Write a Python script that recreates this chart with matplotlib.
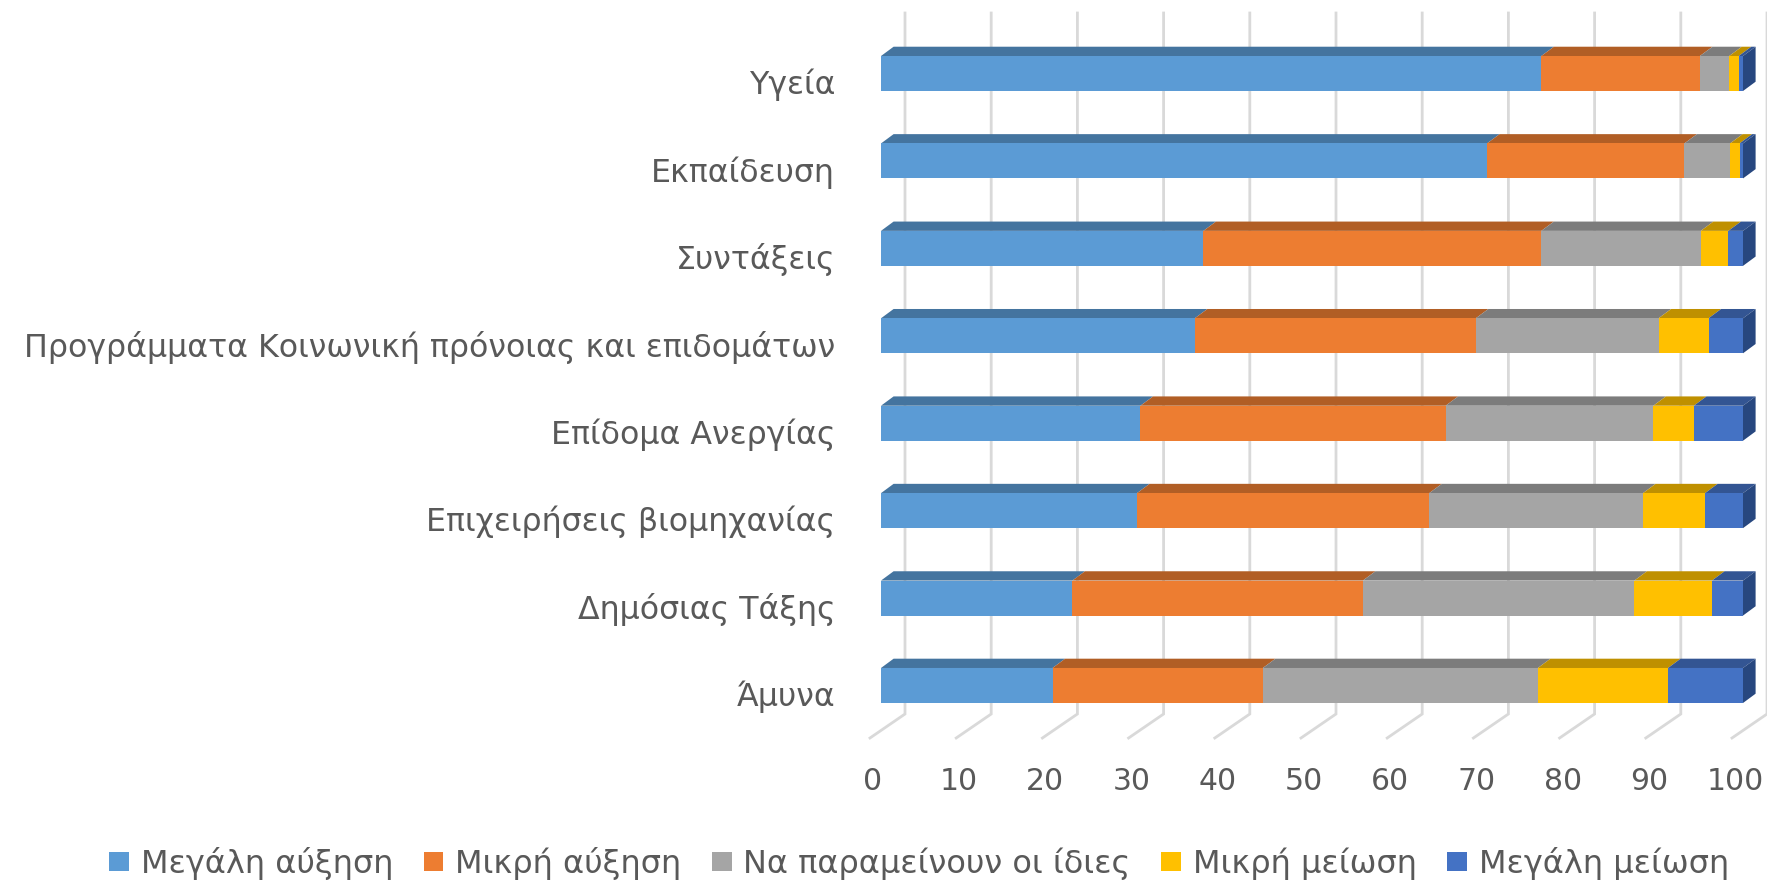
import numpy as np
import matplotlib
matplotlib.use("Agg")
import matplotlib.pyplot as plt
from matplotlib.transforms import Affine2D

plt.rcParams['font.family'] = ['DejaVu Sans']

categories = ["Άμυνα", "Δημόσιας Τάξης", "Επιχειρήσεις βιομηχανίας", "Επίδομα Ανεργίας",
              "Προγράμματα Κοινωνική πρόνοιας και επιδομάτων", "Συντάξεις", "Εκπαίδευση", "Υγεία"]
series_names = ["Μεγάλη αύξηση", "Μικρή αύξηση", "Να παραμείνουν οι ίδιες", "Μικρή μείωση", "Μεγάλη μείωση"]

big_up = [19.9, 22.2, 29.7, 30.1, 36.4, 37.4, 70.3, 76.6]
small_up = [24.4, 33.7, 33.9, 35.4, 32.6, 39.2, 22.9, 18.4]
same = [31.9, 31.5, 24.8, 24.1, 21.2, 18.5, 5.3, 3.4]
small_down = [15.1, 9.0, 7.2, 4.7, 5.8, 3.2, 1.1, 1.1]
big_down = [8.7, 3.6, 4.4, 5.7, 4.0, 1.7, 0.4, 0.5]
values = [big_up, small_up, same, small_down, big_down]

xticks = list(range(0, 101, 10))
colors = ["#5B9BD5", "#ED7D31", "#A5A5A5", "#FFC000", "#4472C4"]
top_colors = ["#44749F", "#B15E25", "#7C7C7C", "#BF9000", "#335593"]
side_color = "#27477F"

W, H = 1767, 881
fig = plt.figure(figsize=(W/100, H/100), dpi=100)
# axes box in pixels: x 0-100 is the front of the bars
left, right, top, bottom = 881, 1743, 29.8, 729.2
ax = fig.add_axes([left/W, 1-bottom/H, (right-left)/W, (bottom-top)/H])
ax.set_xlim(0, 100)
ax.set_ylim(-0.5, 7.5)

px_x = (right-left)/100
px_y = (bottom-top)/8
depth_x = 12.6/px_x
depth_y = 9.3/px_y
bar_h = 35/px_y
back_x = 24/px_x
front_x = -11/px_x
floor_back = -0.5 + (bottom-714)/px_y
floor_front = -0.5 + (bottom-738)/px_y
wall_top = -0.5 + (bottom-13)/px_y

# walls
for v in xticks:
    ax.plot([v+back_x, v+back_x, v+front_x], [wall_top, floor_back, floor_front],
            color="#D9D9D9", lw=2, clip_on=False, zorder=1, solid_joinstyle="miter")

ypos = np.arange(len(categories))
starts = np.zeros(len(categories))
handles = []
for j, vals in enumerate(values):
    vals = np.array(vals)
    b = ax.barh(ypos, vals, left=starts, height=bar_h, color=colors[j], zorder=4, label=series_names[j])
    handles.append(b)
    for i in range(len(ypos)):
        x0 = starts[i]
        x1 = x0+vals[i]
        y1 = ypos[i]+bar_h/2
        ax.fill([x0, x1, x1+depth_x, x0+depth_x], [y1, y1, y1+depth_y, y1+depth_y],
                color=top_colors[j], lw=0, clip_on=False, zorder=3)
        if j == len(values)-1:
            y0 = ypos[i]-bar_h/2
            ax.fill([x1, x1+depth_x, x1+depth_x, x1], [y0, y0+depth_y, y1+depth_y, y1],
                    color=side_color, lw=0, clip_on=False, zorder=3)
    starts = starts+vals

for s in ax.spines.values():
    s.set_visible(False)
ax.patch.set_alpha(0)

ax.set_yticks(ypos)
ax.set_yticklabels(categories, fontsize=22.8, color="#595959")
ax.tick_params(axis='y', length=0, pad=33)
for lab in ax.get_yticklabels():
    lab.set_transform(lab.get_transform() + Affine2D().translate(0, -8))
ax.set_xticks(xticks)
ax.set_xticklabels([str(v) for v in xticks], fontsize=21.5, color="#595959")
ax.tick_params(axis='x', length=0, pad=27)
for lab in ax.get_xticklabels():
    lab.set_transform(lab.get_transform() + Affine2D().translate(-8, 0))

leg = fig.legend(handles=handles, labels=series_names, loc='center', bbox_to_anchor=(919/W, 1-863/H),
                 ncol=5, frameon=False, fontsize=23, labelcolor="#595959",
                 handlelength=0.62, handleheight=0.55, handletextpad=0.37, columnspacing=0.95,
                 borderpad=0, borderaxespad=0)

fig.savefig("out.png", dpi=100)
